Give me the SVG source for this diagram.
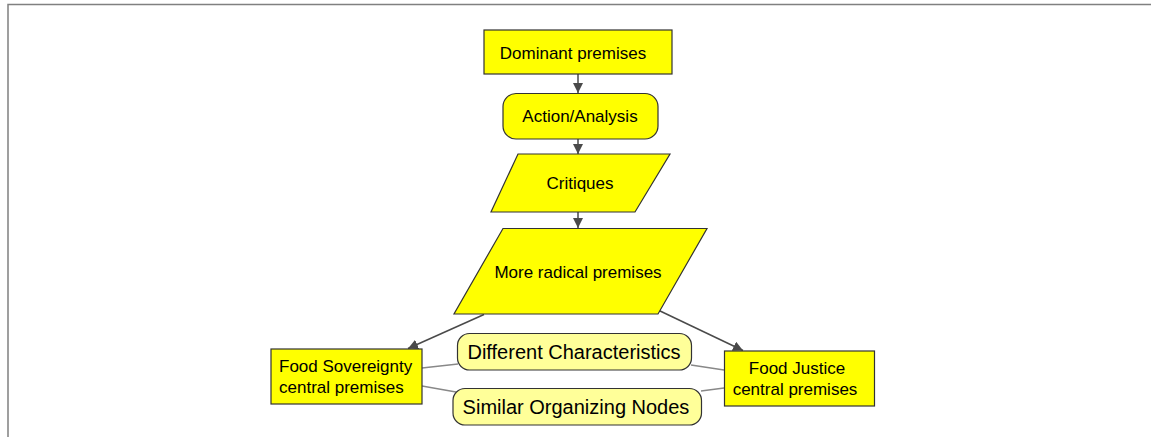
<svg xmlns="http://www.w3.org/2000/svg" width="1151" height="437" viewBox="0 0 1151 437">
<style>
.n{fill:#ffff00;stroke:#333;stroke-width:1.2}
.l{fill:#ffff99;stroke:#333;stroke-width:1.2}
.t{font-family:"Liberation Sans",Arial,sans-serif;font-size:17px;fill:#000;text-anchor:middle}
.tb{font-family:"Liberation Sans",Arial,sans-serif;font-size:20px;fill:#000;text-anchor:middle}
.a{stroke:#4a4a4a;stroke-width:1.5;fill:none;marker-end:url(#ah)}
.g{stroke:#888;stroke-width:1.3;fill:none}
</style>
<defs>
<marker id="ah" viewBox="0 0 10 10" refX="10" refY="5" markerWidth="10" markerHeight="10" markerUnits="userSpaceOnUse" orient="auto">
<path d="M0,0 L10,5 L0,10 z" fill="#4a4a4a"/>
</marker>
</defs>
<rect width="1151" height="437" fill="#fff"/>
<path d="M8,437 V4.5 H1151" stroke="#808080" stroke-width="1.5" fill="none"/>
<g id="connectors">
<line class="a" x1="578" y1="74" x2="578" y2="93"/>
<line class="a" x1="578" y1="139" x2="578" y2="154"/>
<line class="a" x1="578" y1="212" x2="578" y2="228"/>
<line class="a" x1="484" y1="314.5" x2="408" y2="348.5"/>
<line class="a" x1="658" y1="310" x2="743" y2="350.5"/>
<line class="g" x1="422" y1="368" x2="458" y2="364"/>
<line class="g" x1="422" y1="386" x2="456" y2="392"/>
<line class="g" x1="691" y1="365" x2="724" y2="370"/>
<line class="g" x1="701" y1="391" x2="724" y2="388"/>
</g>
<g id="dominant">
<rect class="n" x="484" y="30" width="188" height="44"/>
<text class="t" x="573" y="59">Dominant premises</text>
</g>
<g id="action">
<rect class="n" x="503" y="93.5" width="155" height="45.5" rx="13"/>
<text class="t" x="580" y="122">Action/Analysis</text>
</g>
<g id="critiques">
<polygon class="n" points="518,154 670,154 635,212 491,212"/>
<text class="t" x="580" y="189">Critiques</text>
</g>
<g id="radical">
<polygon class="n" points="503,228.5 707,228.5 658,314 454,314"/>
<text class="t" x="578" y="278">More radical premises</text>
</g>
<g id="different">
<rect class="l" x="457.5" y="333.5" width="234" height="36.5" rx="12"/>
<text class="tb" x="574" y="359">Different Characteristics</text>
</g>
<g id="similar">
<rect class="l" x="453" y="388.5" width="248.5" height="36.5" rx="12"/>
<text class="tb" x="576" y="414">Similar Organizing Nodes</text>
</g>
<g id="sovereignty">
<rect class="n" x="271" y="349" width="151" height="55"/>
<text class="t" x="279" y="372" style="text-anchor:start">Food Sovereignty</text>
<text class="t" x="279" y="393" style="text-anchor:start">central premises</text>
</g>
<g id="justice">
<rect class="n" x="724.5" y="351" width="150" height="55"/>
<text class="t" x="797" y="374">Food Justice</text>
<text class="t" x="795" y="394.5">central premises</text>
</g>
</svg>
